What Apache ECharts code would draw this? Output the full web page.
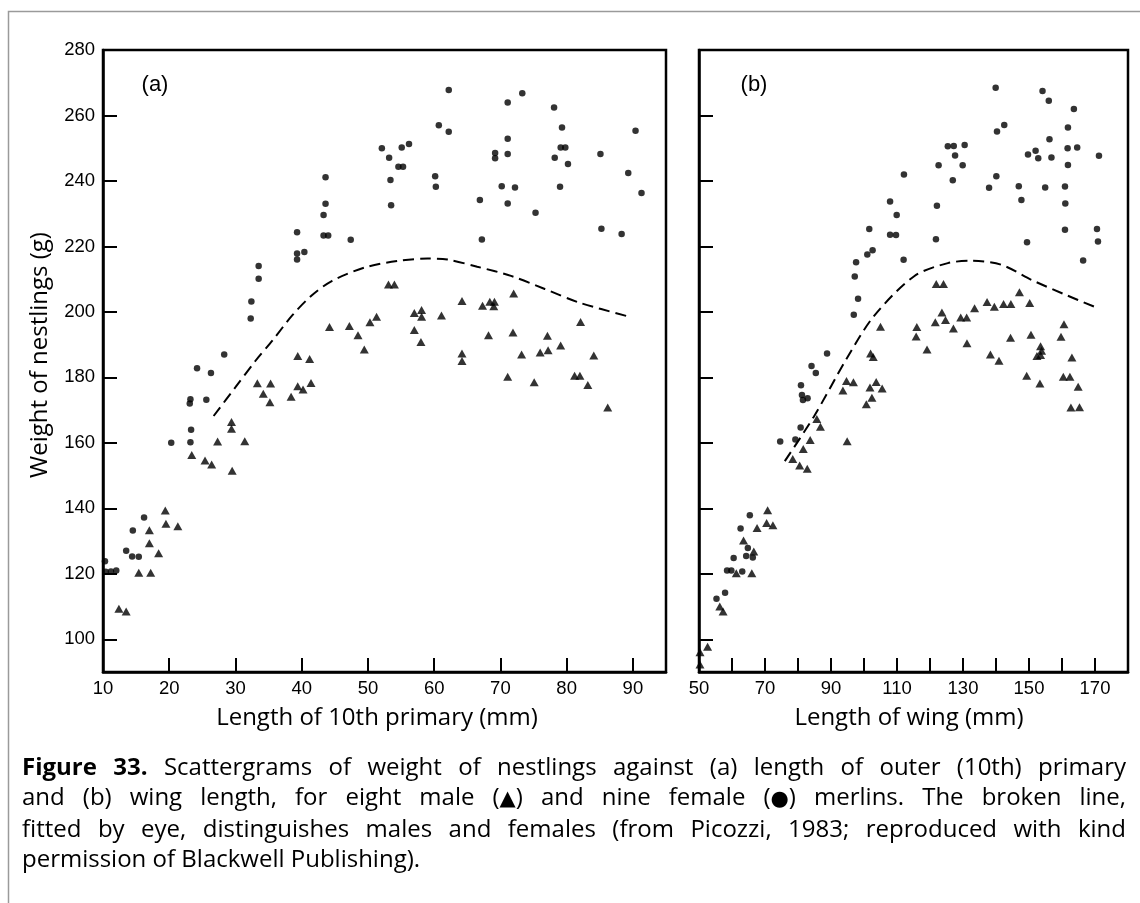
<!DOCTYPE html>
<html>
<head>
<meta charset="utf-8">
<script src="https://cdn.jsdelivr.net/npm/echarts@6/dist/echarts.min.js"></script>
<style>
  html, body { margin: 0; padding: 0; background: #fff; }
  #wrap { position: relative; width: 1140px; height: 903px; overflow: hidden; }
  #chart { position: absolute; left: 0; top: 0; width: 1140px; height: 903px; }
  #caption { position: absolute; left: 22px; top: 751px; width: 1104px;
    font-family: "Open Sans", "Noto Sans", sans-serif; font-size: 24px; line-height: 29.5px; color: #000; }
  #caption .j { display: block; text-align: justify; text-align-last: justify; text-justify: inter-word; white-space: nowrap; }
  #caption .l { display: block; text-align: left; }
  #caption .grp { display: inline-block; }
  #caption .sym { font-family: "DejaVu Sans", sans-serif; font-size: 21px; }
</style>
</head>
<body>
<div id="wrap">
  <div id="chart"></div>
  <div id="caption">
    <span class="j"><b>Figure 33.</b> Scattergrams of weight of nestlings against (a) length of outer (10th) primary</span>
    <span class="j">and (b) wing length, for eight male <span class="grp">(<span class="sym">▲</span>)</span> and nine female <span class="grp">(<span class="sym">●</span>)</span> merlins. The broken line,</span>
    <span class="j">fitted by eye, distinguishes males and females (from Picozzi, 1983; reproduced with kind</span>
    <span class="l">permission of Blackwell Publishing).</span>
  </div>
</div>
<script>
// ---------- Data ----------
// Panel (a): length of 10th primary (mm) vs weight (g)
const aFemale = [
  [10.3,123.8],[10.4,120.6],[11.2,120.7],[12.0,121.0],[13.5,127.0],[14.4,125.3],[14.5,133.2],[15.4,125.2],[16.2,137.2],
  [20.3,160.0],[23.2,160.2],[23.3,164.0],[23.1,172.0],[23.2,173.3],[24.2,182.8],[25.6,173.2],[26.3,181.3],[28.3,187.0],
  [32.3,198.0],[32.4,203.2],[33.5,210.1],[33.5,214.0],[39.3,216.0],[39.3,217.8],[40.4,218.3],[39.3,224.3],
  [43.3,223.3],[44.0,223.3],[43.3,229.6],[43.6,233.0],[43.6,241.1],[47.4,222.0],
  [52.1,250.0],[53.2,247.1],[53.4,240.3],[53.5,232.6],[54.6,244.3],[55.3,244.3],[55.1,250.2],[56.2,251.3],
  [60.15,241.4],[60.25,238.2],[60.7,257.0],[62.2,255.0],[62.2,267.8],[66.9,234.2],[67.2,222.1],
  [69.2,248.5],[69.2,246.9],[70.2,238.4],[71.1,248.2],[71.1,252.9],[71.1,264.0],[71.1,233.1],[72.2,238.0],[73.3,266.8],
  [75.3,230.3],[78.1,262.4],[78.2,247.1],[79.0,238.2],[79.1,250.2],[79.8,250.2],[79.3,256.3],[80.2,245.2],
  [85.1,248.2],[85.25,225.4],[88.3,223.8],[89.3,242.4],[90.4,255.3],[91.3,236.3]
];
const aMale = [
  [12.4,109.3],[13.5,108.5],[15.4,120.3],[17.2,120.3],[17.0,129.3],[17.0,133.3],[18.4,126.3],[19.4,139.3],[19.5,135.3],[21.3,134.5],
  [23.4,156.3],[25.4,154.6],[26.4,153.4],[27.3,160.4],[29.4,166.4],[29.4,164.3],[29.5,151.5],[31.4,160.5],
  [33.3,178.2],[34.2,175.0],[35.3,178.1],[35.2,172.4],[38.4,174.1],[39.4,186.5],[39.4,177.3],[40.2,176.3],[41.2,185.6],[41.4,178.3],
  [44.2,195.4],[47.2,195.7],[48.5,192.9],[49.45,188.5],[50.3,196.8],[51.3,198.5],[53.1,208.4],[54.0,208.4],
  [57.0,199.7],[58.1,200.6],[58.1,198.5],[57.0,194.5],[58.0,190.8],[61.1,198.9],[64.2,203.3],[64.2,187.3],[64.2,185.0],
  [67.3,201.9],[68.4,203.1],[69.1,203.1],[69.0,201.7],[68.2,192.9],[71.9,193.7],[72.0,205.6],[71.1,180.2],[73.2,187.0],
  [75.1,178.5],[76.0,187.6],[77.2,188.3],[77.1,192.7],[79.1,189.7],[81.2,180.5],[82.0,180.5],[82.1,196.9],[83.2,177.7],
  [84.1,186.7],[86.2,170.8]
];
const aDivider = [
  [26.7,168.2],[30.0,177.0],[33.0,185.0],[35.6,191.3],[38.6,199.0],[41.5,205.0],[44.6,209.5],[49.6,213.6],
  [54.6,215.6],[59.0,216.3],[62.0,216.0],[66.5,213.8],[71.6,211.0],[76.7,207.0],[81.8,202.9],[89.7,198.4]
];

// Panel (b): length of wing (mm) vs weight (g)
const bFemale = [
  [55.3,112.4],[57.9,114.2],[58.5,121.0],[59.8,121.0],[60.5,124.8],[63.1,120.7],[62.6,133.8],[65.4,137.9],[64.8,127.9],[64.3,125.4],[66.3,125.0],
  [74.6,160.4],[79.2,161.0],[80.8,164.7],[81.2,174.6],[81.5,173.1],[82.9,173.6],[80.9,177.6],[84.1,183.5],[85.4,181.3],[88.8,187.3],
  [96.9,199.1],[98.2,204.0],[97.2,210.8],[97.6,215.2],[101.0,217.5],[102.6,218.8],[101.6,225.3],[107.9,223.6],[109.7,223.5],[109.9,229.6],[107.9,233.7],
  [112.0,215.9],[112.1,242.0],[121.8,222.2],[122.1,232.4],[122.6,244.8],[126.9,240.2],[125.4,250.6],[127.2,250.7],[127.6,247.8],[129.9,244.8],[130.5,251.0],
  [137.9,237.9],[140.1,241.4],[139.9,268.5],[140.3,255.1],[142.5,257.1],[146.9,238.4],[147.7,234.2],[149.4,221.3],[149.7,248.1],[152.0,249.2],[152.8,246.9],
  [154.1,267.5],[154.9,238.0],[156.0,264.5],[156.2,252.7],[156.8,247.2],[160.9,238.3],[161.0,233.1],[160.9,225.1],[161.7,250.0],[161.8,244.9],[161.8,256.3],
  [163.6,262.0],[164.6,250.2],[166.4,215.7],[170.6,225.3],[170.9,221.5],[171.2,247.7]
];
const bMale = [
  [50.3,92.3],[50.3,96.0],[52.6,97.7],[56.3,110.0],[57.3,108.5],[61.3,120.2],[66.0,120.2],[66.6,126.8],[63.5,130.2],[67.6,134.0],[70.5,135.5],[72.4,134.8],[70.8,139.4],
  [78.4,155.1],[80.5,153.1],[82.8,152.1],[81.6,158.1],[83.7,160.9],[85.7,167.3],[86.8,164.9],[93.6,176.0],[94.7,178.9],[96.8,178.5],[94.9,160.5],
  [100.7,171.8],[101.8,176.9],[102.4,173.8],[103.7,178.6],[105.5,176.6],[102.0,187.3],[102.8,186.2],[105.0,195.5],[115.8,192.5],[116.0,195.4],[119.1,188.5],
  [121.6,196.8],[121.9,208.5],[124.1,208.5],[123.6,199.8],[124.7,197.5],[127.1,194.9],[129.3,198.3],[131.1,198.3],[131.2,190.4],[133.5,201.1],
  [137.3,203.0],[138.3,187.0],[139.5,201.6],[140.9,185.1],[142.3,202.4],[144.5,202.4],[144.4,192.1],[147.1,206.0],[149.3,180.5],[150.2,202.7],[150.6,193.0],
  [152.4,186.5],[153.5,186.8],[153.8,188.1],[153.5,189.5],[153.3,178.1],[159.7,192.4],[160.6,196.2],[160.4,180.2],[162.4,180.2],[163.0,186.1],
  [164.9,177.1],[162.7,170.8],[165.3,170.9]
];
const bDivider = [
  [76.0,154.4],[84.8,168.0],[94.9,186.0],[103.0,198.7],[115.2,210.9],[125.4,214.9],[132.5,215.6],
  [141.6,214.4],[150.7,209.8],[160.9,205.3],[170.0,201.5]
];

// Ticks and labels
const aXLabels = [10,20,30,40,50,60,70,80,90];
const aXTicks  = [10,20,30,40,50,60,70,80,90];
const bXLabels = [50,70,90,110,130,150,170];
const bXTicks  = [50,60,70,80,90,100,110,120,130,140,150,160,170];
const yLabels  = [100,120,140,160,180,200,220,240,260,280];
const yTicks   = [100,120,140,160,180,200,220,240,260];

// ---------- Chart ----------
const chart = echarts.init(document.getElementById('chart'), null, { renderer: 'canvas' });
const labelFont = { fontFamily: 'Liberation Sans, Arial, sans-serif', fontSize: 18.5, color: '#000' };
const titleFont = { fontFamily: '"Open Sans", "Noto Sans", sans-serif', fontSize: 24, fill: '#000' };
const panelFont = { fontFamily: 'Liberation Sans, Arial, sans-serif', fontSize: 22, fill: '#000' };

function xAxisDef(gi, min, max, labels, ticks) {
  return {
    type: 'value', gridIndex: gi, min: min, max: max,
    axisLine: { show: true, lineStyle: { color: '#000', width: 2.5 } },
    axisTick: { show: true, inside: true, length: 14, customValues: ticks, lineStyle: { color: '#000', width: 2 } },
    axisLabel: Object.assign({ show: true, margin: 7, customValues: labels }, labelFont),
    splitLine: { show: false }
  };
}
function yAxisDef(gi, showLabels) {
  return {
    type: 'value', gridIndex: gi, min: 90, max: 280,
    axisLine: { show: true, lineStyle: { color: '#000', width: 2.5 } },
    axisTick: { show: true, inside: true, length: 14, customValues: yTicks, lineStyle: { color: '#000', width: 2 } },
    axisLabel: Object.assign({ show: showLabels, margin: 8, customValues: yLabels }, labelFont),
    splitLine: { show: false }
  };
}
function scatter(gi, data, symbol, size) {
  return { type: 'scatter', xAxisIndex: gi, yAxisIndex: gi, data: data, symbol: symbol, symbolSize: size,
    itemStyle: { color: '#000' }, silent: true, z: 3 };
}
function divider(gi, data) {
  return { type: 'line', xAxisIndex: gi, yAxisIndex: gi, data: data, smooth: 0.3, symbol: 'none',
    lineStyle: { color: '#000', width: 2, type: [11, 6] }, silent: true, z: 2 };
}

chart.setOption({
  animation: false,
  backgroundColor: '#fff',
  grid: [
    { left: 103, top: 50, width: 563, height: 622, show: true, borderColor: '#000', borderWidth: 2.5, containLabel: false },
    { left: 699, top: 50, width: 429, height: 622, show: true, borderColor: '#000', borderWidth: 2.5, containLabel: false }
  ],
  xAxis: [ xAxisDef(0, 10, 95, aXLabels, aXTicks), xAxisDef(1, 50, 180, bXLabels, bXTicks) ],
  yAxis: [ yAxisDef(0, true), yAxisDef(1, false) ],
  series: [
    divider(0, aDivider),
    scatter(0, aFemale, 'circle', 6.5),
    scatter(0, aMale, 'triangle', [9, 8]),
    divider(1, bDivider),
    scatter(1, bFemale, 'circle', 6.5),
    scatter(1, bMale, 'triangle', [9, 8])
  ],
  graphic: [
    { type: 'rect', shape: { x: 8.5, y: 11.5, width: 1150, height: 920 }, style: { fill: 'none', stroke: '#9a9a9a', lineWidth: 1.5 }, silent: true },
    { type: 'text', x: 155, y: 85, style: Object.assign({ text: '(a)', align: 'center', verticalAlign: 'middle' }, panelFont) },
    { type: 'text', x: 754, y: 85, style: Object.assign({ text: '(b)', align: 'center', verticalAlign: 'middle' }, panelFont) },
    { type: 'text', x: 377, y: 718, style: Object.assign({ text: 'Length of 10th primary (mm)', align: 'center', verticalAlign: 'middle' }, titleFont) },
    { type: 'text', x: 909, y: 718, style: Object.assign({ text: 'Length of wing (mm)', align: 'center', verticalAlign: 'middle' }, titleFont) },
    { type: 'text', x: 40, y: 355, rotation: Math.PI / 2, style: Object.assign({ text: 'Weight of nestlings (g)', align: 'center', verticalAlign: 'middle' }, titleFont) }
  ]
});
</script>
</body>
</html>
